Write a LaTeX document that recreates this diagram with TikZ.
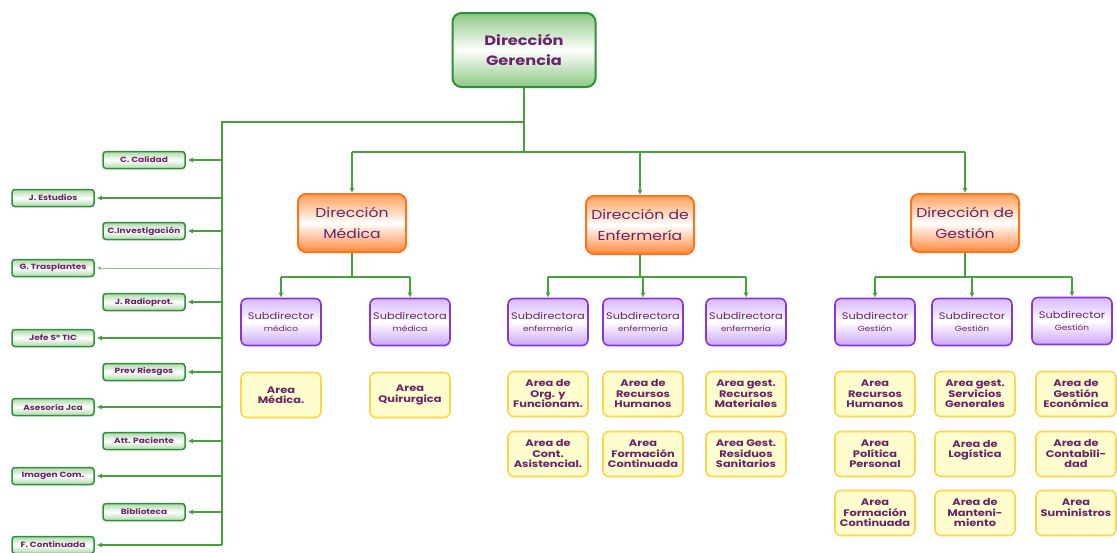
\documentclass[tikz,border=0pt]{standalone}
\usepackage{fontspec}
\setmainfont{Poppins}[FakeStretch=1.2]
\usetikzlibrary{arrows.meta}

\definecolor{lineGreen}{RGB}{70,160,60}
\definecolor{boxGreen}{RGB}{45,145,60}
\definecolor{softGreen}{RGB}{140,200,130}
\definecolor{dirOrange}{RGB}{255,115,25}
\definecolor{softOrange}{RGB}{255,160,90}
\definecolor{subPurple}{RGB}{135,55,215}
\definecolor{softPurple}{RGB}{205,165,250}
\definecolor{areaYellow}{RGB}{255,212,70}
\definecolor{areaFill}{RGB}{255,252,205}
\definecolor{txtPurple}{RGB}{105,35,105}

\newcommand{\lowline}[1]{{\fontsize{7.5}{9}\selectfont #1}}

\tikzset{
  orgbox/.style={align=center, text=txtPurple, inner sep=1pt},
  gerencia/.style={orgbox, draw=boxGreen, line width=2pt, rounded corners=9pt,
    top color=softGreen, bottom color=softGreen, middle color=white,
    minimum width=143pt, minimum height=74pt, font=\fontsize{13.5}{20}\selectfont\bfseries},
  director/.style={orgbox, draw=dirOrange, line width=2pt, rounded corners=8pt,
    top color=softOrange, bottom color=dirOrange!85, middle color=white,
    minimum width=108pt, minimum height=58pt, font=\fontsize{13}{21}\selectfont},
  subdir/.style={orgbox, draw=subPurple, line width=1.6pt, rounded corners=6pt,
    top color=softPurple!80, bottom color=softPurple, middle color=white,
    minimum width=80pt, minimum height=47pt, font=\fontsize{9.5}{12}\selectfont},
  area/.style={orgbox, draw=areaYellow, line width=1.6pt, rounded corners=6pt,
    fill=areaFill, minimum width=80pt, minimum height=45pt,
    font=\fontsize{9.5}{10.5}\selectfont\bfseries},
  staff/.style={orgbox, draw=boxGreen, line width=1.5pt, rounded corners=3pt,
    top color=softGreen!70, bottom color=softGreen!70, middle color=white,
    minimum width=82pt, minimum height=17pt, font=\fontsize{7.5}{8}\selectfont\bfseries},
  conn/.style={draw=lineGreen, line width=1.6pt},
  arr/.style={conn, -{Latex[length=5pt,width=5pt]}},
  staffline/.style={arr, shorten >=2pt},
  faintline/.style={draw=softGreen, line width=0.8pt, -{Latex[length=4pt,width=4pt]}, shorten >=2pt}
}

\begin{document}
\begin{tikzpicture}[x=1pt,y=-1pt]
  \useasboundingbox (0,0) rectangle (1117,552);

  % top
  \node[gerencia] (ger) at (524,50) {Dirección\\Gerencia};

  % directions
  \node[director] (dmed) at (352,223) {Dirección\\Médica};
  \node[director] (denf) at (640,225) {Dirección de\\Enfermería};
  \node[director] (dges) at (965,223) {Dirección de\\Gestión};

  \coordinate (hub) at (524,152);
  \coordinate (spine) at (222,122);
  \draw[conn] (ger.south) -- (hub);
  \draw[conn] (hub -| dmed) -- (hub -| dges);
  \draw[arr] (hub -| dmed) -- (dmed.north);
  \draw[arr] (hub -| denf) -- (denf.north);
  \draw[arr] (hub -| dges) -- (dges.north);

  % staff column
  \foreach \nm/\txt/\cx/\cy/\st in {cal/C. Calidad/144/160/staffline,
      est/J. Estudios/53/198/staffline,
      inv/C.Investigación/144/231/staffline,
      tra/G. Trasplantes/53/268/faintline,
      rad/J. Radioprot./144/302/staffline,
      tic/Jefe Sº TIC/53/338/staffline,
      rie/Prev Riesgos/144/372/staffline,
      ase/Asesoría Jca/53/407/staffline,
      pac/Att. Paciente/144/441/staffline,
      ima/Imagen Com./53/476/staffline,
      bib/Biblioteca/144/512/staffline,
      fco/F. Continuada/53/545/staffline}
  {
    \node[staff] (\nm) at (\cx,\cy) {\txt};
    \draw[\st] (spine |- \nm.east) -- (\nm.east);
  }
  \draw[conn] (ger.south |- spine) -- (spine) -- (spine |- fco.east);

  % Dirección Médica
  \node[subdir] (smed1) at (281,322) {Subdirector\\\lowline{médico}};
  \node[subdir] (smed2) at (410,322) {Subdirectora\\\lowline{médica}};
  \node[area] (amed1) at (281,395) {Area\\Médica.};
  \node[area] (amed2) at (410,395) {Area\\Quirurgica};
  \draw[conn] (dmed.south) -- ++(0,24) coordinate (jmed);
  \draw[conn] (jmed -| smed1) -- (jmed -| smed2);
  \draw[arr] (jmed -| smed1) -- (smed1.north);
  \draw[arr] (jmed -| smed2) -- (smed2.north);

  % Dirección de Enfermería
  \node[subdir] (senf1) at (548,322) {Subdirectora\\\lowline{enfermería}};
  \node[subdir] (senf2) at (643,322) {Subdirectora\\\lowline{enfermería}};
  \node[subdir] (senf3) at (746,322) {Subdirectora\\\lowline{enfermería}};
  \node[area] (aenf1) at (548,394) {Area de\\Org. y\\Funcionam.};
  \node[area] (aenf2) at (643,394) {Area de\\Recursos\\Humanos};
  \node[area] (aenf3) at (746,394) {Area gest.\\Recursos\\Materiales};
  \node[area] (aenf4) at (548,454) {Area de\\Cont.\\Asistencial.};
  \node[area] (aenf5) at (643,454) {Area\\Formación\\Continuada};
  \node[area] (aenf6) at (746,454) {Area Gest.\\Residuos\\Sanitarios};
  \draw[conn] (denf.south) -- ++(0,22) coordinate (jenf);
  \draw[conn] (jenf -| senf1) -- (jenf -| senf3);
  \draw[arr] (jenf -| senf1) -- (senf1.north);
  \draw[arr] (jenf -| senf2) -- (senf2.north);
  \draw[arr] (jenf -| senf3) -- (senf3.north);

  % Dirección de Gestión
  \node[subdir] (sges1) at (875,322) {Subdirector\\\lowline{Gestión}};
  \node[subdir] (sges2) at (972,322) {Subdirector\\\lowline{Gestión}};
  \node[subdir] (sges3) at (1072,321) {Subdirector\\\lowline{Gestión}};
  \node[area] (ages1) at (875,394) {Area\\Recursos\\Humanos};
  \node[area] (ages2) at (975,394) {Area gest.\\Servicios\\Generales};
  \node[area] (ages3) at (1076,394) {Area de\\Gestión\\Económica};
  \node[area] (ages4) at (875,454) {Area\\Política\\Personal};
  \node[area] (ages5) at (975,454) {Area de\\Logística\\\phantom{x}};
  \node[area] (ages6) at (1076,454) {Area de\\Contabili-\\dad};
  \node[area] (ages7) at (875,513) {Area\\Formación\\Continuada};
  \node[area] (ages8) at (975,513) {Area de\\Manteni-\\miento};
  \node[area] (ages9) at (1076,513) {Area\\Suministros\\\phantom{x}};
  \draw[conn] (dges.south) -- ++(0,24) coordinate (jges);
  \draw[conn] (jges -| sges1) -- (jges -| sges3);
  \draw[arr] (jges -| sges1) -- (sges1.north);
  \draw[arr] (jges -| sges2) -- (sges2.north);
  \draw[arr] (jges -| sges3) -- (sges3.north);
\end{tikzpicture}
\end{document}
